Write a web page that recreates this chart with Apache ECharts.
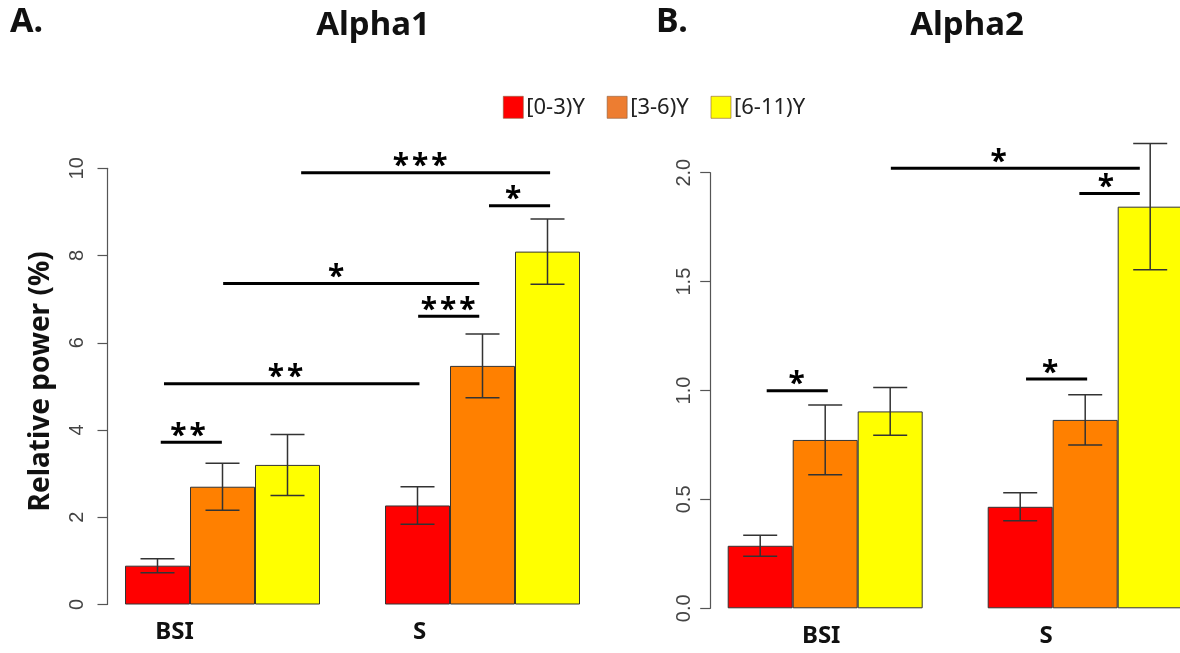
<!DOCTYPE html>
<html>
<head>
<meta charset="utf-8">
<script src="https://cdn.jsdelivr.net/npm/echarts@6/dist/echarts.min.js"></script>
<style>html,body{margin:0;padding:0;background:#fff}#c{width:1180px;height:653px}</style>
</head>
<body>
<div id="c"></div>
<script>
// ---- data ----
const categories = ['BSI', 'S'];
const groupNames = ['[0-3)Y', '[3-6)Y', '[6-11)Y'];

// Panel A (Alpha1), relative power %
const a1Red = [0.89, 2.27];
const a1Orange = [2.70, 5.47];
const a1Yellow = [3.20, 8.09];
const a1RedSE = [0.16, 0.43];
const a1OrangeSE = [0.54, 0.73];
const a1YellowSE = [0.70, 0.75];

// Panel B (Alpha2)
const a2Red = [0.287, 0.466];
const a2Orange = [0.773, 0.865];
const a2Yellow = [0.904, 1.844];
const a2RedSE = [0.048, 0.064];
const a2OrangeSE = [0.16, 0.115];
const a2YellowSE = [0.11, 0.29];

// y ticks
const a1Ticks = [0, 2, 4, 6, 8, 10];
const a2Ticks = ['0.0', '0.5', '1.0', '1.5', '2.0'];

// significance brackets: [x start, x end, y level, star x] in bar-width units
const a1SigLines = [
  [3.21, 7.04, 9.90, 5.04],
  [6.10, 7.04, 9.14, 6.47],
  [2.01, 5.95, 7.36, 3.75],
  [5.01, 5.95, 6.61, 5.47],
  [1.10, 5.03, 5.06, 2.97],
  [1.05, 1.99, 3.72, 1.47]
];
const a1SigLabels = ['***', '*', '*', '***', '**', '**'];
const a2SigLines = [
  [3.01, 6.84, 2.020, 4.67],
  [5.91, 6.84, 1.905, 6.32],
  [5.09, 6.03, 1.053, 5.46],
  [1.10, 2.04, 0.999, 1.56]
];
const a2SigLabels = ['*', '*', '*', '*'];

// ---- styles ----
const barColors = ['#FF0000', '#FF8000', '#FFFF00'];
const legendColors = ['#FF0000', '#ED7D31', '#FFFF00'];
const labelShift = [[48, 63], [4, 39]]; // px left shift of category labels per panel

const chart = echarts.init(document.getElementById('c'), null, {renderer: 'canvas'});

function errSeries(means, ses, k, xi, yi, clip) {
  return {
    type: 'custom', xAxisIndex: xi, yAxisIndex: yi, z: 5, clip: clip, silent: true,
    data: means.map((m, i) => [i, m, ses[i]]),
    renderItem: function (params, api) {
      const c = api.value(0), m = api.value(1), s = api.value(2);
      const band = api.size([1, 0])[0];
      const bw = band * 0.75 / 3;
      const base = api.coord([c, m]);
      const cx = base[0] + (k - 1) * bw;
      const yt = api.coord([c, m + s])[1];
      const yb = api.coord([c, m - s])[1];
      const hw = 17;
      const st = {stroke: '#333', lineWidth: 1.5};
      return {type: 'group', children: [
        {type: 'line', shape: {x1: cx, y1: yt, x2: cx, y2: yb}, style: st},
        {type: 'line', shape: {x1: cx - hw, y1: yt, x2: cx + hw, y2: yt}, style: st},
        {type: 'line', shape: {x1: cx - hw, y1: yb, x2: cx + hw, y2: yb}, style: st}
      ]};
    }
  };
}

function sigSeries(lines, labels, xi, yi) {
  return {
    type: 'custom', xAxisIndex: xi, yAxisIndex: yi, z: 6, clip: false, silent: true,
    data: lines,
    renderItem: function (params, api) {
      const i = params.dataIndex;
      const y = api.value(2);
      const p1 = api.coord([api.value(0), y]);
      const p2 = api.coord([api.value(1), y]);
      const ps = api.coord([api.value(3), y]);
      return {type: 'group', children: [
        {type: 'line', shape: {x1: p1[0], y1: p1[1], x2: p2[0], y2: p2[1]}, style: {stroke: '#000', lineWidth: 3}},
        {type: 'text', x: ps[0], y: ps[1] - 6, style: {text: labels[i].split('').join('\u200A'), font: 'bold 30px "Noto Sans"', fill: '#000', align: 'center', verticalAlign: 'middle'}}
      ]};
    }
  };
}

function barSeries(name, values, k, xi, yi) {
  return {
    name: name, type: 'bar', xAxisIndex: xi, yAxisIndex: yi,
    data: values, barGap: '0%', barCategoryGap: '25%',
    itemStyle: {color: barColors[k], borderColor: '#333', borderWidth: 1},
    emphasis: {disabled: true}
  };
}

function catAxis(gi, panel) {
  const rich = {};
  categories.forEach((c, i) => {
    rich['c' + i] = {fontFamily: 'Noto Sans', fontWeight: 'bold', fontSize: 24, color: '#111',
      padding: [0, 2 * labelShift[panel][i], 0, 0]};
  });
  return {
    gridIndex: gi, type: 'category', data: categories,
    axisLine: {show: false}, axisTick: {show: false},
    axisLabel: {margin: 16, formatter: (v, i) => '{c' + i + '|' + v + '}', rich: rich}
  };
}

const yLabelStyle = {fontFamily: 'Liberation Sans', fontSize: 20, color: '#444', rotate: 90};

const option = {
  animation: false,
  backgroundColor: '#fff',
  legend: {
    left: 498, top: 91, itemWidth: 20, itemHeight: 22, itemGap: 22,
    icon: 'rect', selectedMode: false,
    textStyle: {fontFamily: 'Noto Sans', fontSize: 22, color: '#222', padding: [0, 0, 0, -2]},
    data: groupNames.map((n, k) => ({name: n, itemStyle: {color: legendColors[k], borderColor: '#8a5a3a', borderWidth: 0.6}}))
  },
  graphic: [
    {type: 'text', x: 10, y: 22, style: {text: 'A.', font: 'bold 34px "Noto Sans"', fill: '#111', align: 'left', verticalAlign: 'middle'}},
    {type: 'text', x: 373, y: 26, style: {text: 'Alpha1', font: 'bold 33px "Noto Sans"', fill: '#111', align: 'center', verticalAlign: 'middle'}},
    {type: 'text', x: 656, y: 22, style: {text: 'B.', font: 'bold 34px "Noto Sans"', fill: '#111', align: 'left', verticalAlign: 'middle'}},
    {type: 'text', x: 967, y: 26, style: {text: 'Alpha2', font: 'bold 33px "Noto Sans"', fill: '#111', align: 'center', verticalAlign: 'middle'}}
  ],
  grid: [
    {left: 92.5, top: 168.3, width: 520, height: 436.2, outerBoundsMode: 'none', containLabel: false},
    {left: 695.2, top: 172.7, width: 520, height: 435.6, outerBoundsMode: 'none', containLabel: false}
  ],
  xAxis: [
    catAxis(0, 0),
    catAxis(1, 1),
    {gridIndex: 0, type: 'value', min: 0, max: 8, show: false},
    {gridIndex: 1, type: 'value', min: 0, max: 8, show: false}
  ],
  yAxis: [
    {
      gridIndex: 0, type: 'value', min: a1Ticks[0], max: a1Ticks[a1Ticks.length - 1], interval: a1Ticks[1] - a1Ticks[0],
      offset: -15,
      axisLine: {show: true, lineStyle: {color: '#555', width: 1.2}},
      axisTick: {show: true, length: 10, lineStyle: {color: '#555', width: 1.2}},
      axisLabel: Object.assign({margin: 20}, yLabelStyle),
      splitLine: {show: false},
      name: 'Relative power (%)', nameLocation: 'middle', nameRotate: 90, nameGap: 52,
      nameTextStyle: {fontFamily: 'Noto Sans', fontWeight: 'bold', fontSize: 28, color: '#111', padding: [0, 0, 0, 10]}
    },
    {
      gridIndex: 1, type: 'value', min: 0, max: 2, interval: 0.5,
      offset: -15,
      axisLine: {show: true, lineStyle: {color: '#555', width: 1.2}},
      axisTick: {show: true, length: 10, lineStyle: {color: '#555', width: 1.2}},
      axisLabel: Object.assign({margin: 16, formatter: v => a2Ticks[Math.round(v / 0.5)]}, yLabelStyle),
      splitLine: {show: false}
    }
  ],
  series: [
    barSeries(groupNames[0], a1Red, 0, 0, 0),
    barSeries(groupNames[1], a1Orange, 1, 0, 0),
    barSeries(groupNames[2], a1Yellow, 2, 0, 0),
    barSeries(groupNames[0], a2Red, 0, 1, 1),
    barSeries(groupNames[1], a2Orange, 1, 1, 1),
    barSeries(groupNames[2], a2Yellow, 2, 1, 1),
    errSeries(a1Red, a1RedSE, 0, 0, 0, true),
    errSeries(a1Orange, a1OrangeSE, 1, 0, 0, true),
    errSeries(a1Yellow, a1YellowSE, 2, 0, 0, true),
    errSeries(a2Red, a2RedSE, 0, 1, 1, false),
    errSeries(a2Orange, a2OrangeSE, 1, 1, 1, false),
    errSeries(a2Yellow, a2YellowSE, 2, 1, 1, false),
    sigSeries(a1SigLines, a1SigLabels, 2, 0),
    sigSeries(a2SigLines, a2SigLabels, 3, 1)
  ]
};
chart.setOption(option);
</script>
</body>
</html>
